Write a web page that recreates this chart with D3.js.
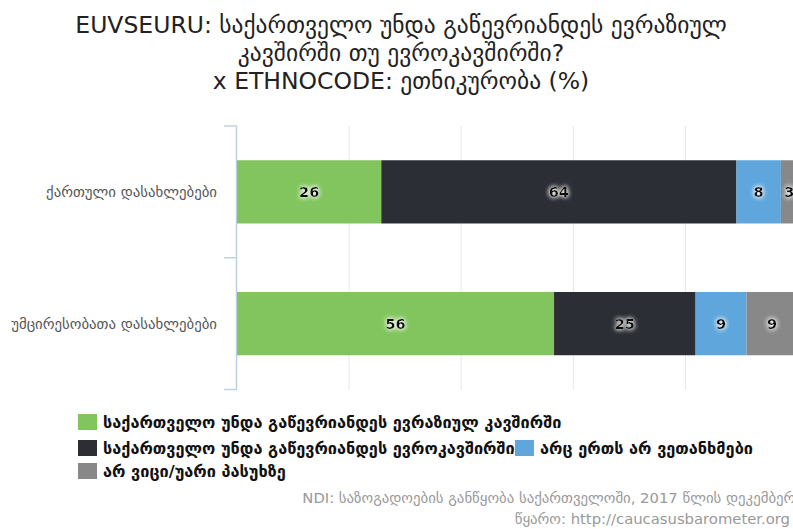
<!DOCTYPE html>
<html lang="ka">
<head>
    <meta charset="UTF-8">
    <title>EUVSEURU x ETHNOCODE</title>
    <script src="https://d3js.org/d3.v7.min.js"></script>
    <style>
        body { margin: 0; background: #fff; overflow: hidden; }
        svg { display: block; font-family: "DejaVu Sans", sans-serif; }
        .title { fill: #222; font-size: 23.5px; text-anchor: middle; }
        .cat-label { fill: #555; font-size: 14.8px; text-anchor: end; }
        .bar-label { fill: #111; font-size: 14.5px; font-weight: bold; text-anchor: middle; }
        .legend-text { fill: #111; font-size: 16.3px; font-weight: bold; }
        .source { fill: #999; font-size: 14.8px; text-anchor: end; }
    </style>
</head>
<body>
<svg id="chart" width="793" height="529"></svg>
<script>
    const titleLines = [
        "EUVSEURU: საქართველო უნდა გაწევრიანდეს ევრაზიულ",
        "კავშირში თუ ევროკავშირში?",
        "x ETHNOCODE: ეთნიკურობა (%)"
    ];
    const categories = ["ქართული დასახლებები", "უმცირესობათა დასახლებები"];
    const seriesNames = [
        "საქართველო უნდა გაწევრიანდეს ევრაზიულ კავშირში",
        "საქართველო უნდა გაწევრიანდეს ევროკავშირში",
        "არც ერთს არ ვეთანხმები",
        "არ ვიცი/უარი პასუხზე"
    ];
    const seriesColors = ["#82c55e", "#2b2e34", "#5ea6db", "#888888"];
    const eurasian = [26, 56];
    const eu = [64, 25];
    const neither = [8, 9];
    const dontKnow = [3, 9];
    const gridTicks = [0, 20, 40, 60, 80, 100];
    const sourceLines = [
        "NDI: საზოგადოების განწყობა საქართველოში, 2017 წლის დეკემბერი",
        "წყარო: http://caucasusbarometer.org"
    ];

    const svg = d3.select("#chart");

    // percent axis; the chart runs a little past the right edge of the window
    const x = d3.scaleLinear().domain([0, 1]).range([237, 797.5]);
    const y = d3.scaleBand().domain(categories).range([126, 389.5])
        .paddingInner(0.52).paddingOuter(0.26);

    // title
    svg.selectAll(".title").data(titleLines).enter().append("text")
        .attr("class", "title")
        .attr("x", 401)
        .attr("y", (d, i) => 33 + i * 28)
        .text(d => d);

    // gridlines
    svg.append("g").selectAll("line").data(gridTicks.slice(1)).enter().append("line")
        .attr("x1", d => x(d / 100)).attr("x2", d => x(d / 100))
        .attr("y1", 126).attr("y2", 389.5)
        .attr("stroke", "#e6e6e6").attr("stroke-width", 1);

    // category axis with ticks at band boundaries
    const axisColor = "#c0d0e3";
    const bounds = [0, 1, 2].map(i => y.range()[0] + i * y.step());
    svg.append("line")
        .attr("x1", x(0) - 0.5).attr("x2", x(0) - 0.5)
        .attr("y1", y.range()[0]).attr("y2", y.range()[1])
        .attr("stroke", axisColor).attr("stroke-width", 1.5);
    svg.append("g").selectAll("line").data(bounds).enter().append("line")
        .attr("x1", x(0) - 13).attr("x2", x(0))
        .attr("y1", d => d).attr("y2", d => d)
        .attr("stroke", axisColor).attr("stroke-width", 1.5);

    svg.append("g").selectAll("text").data(categories).enter().append("text")
        .attr("class", "cat-label")
        .attr("x", 217)
        .attr("y", d => y(d) + y.bandwidth() / 2)
        .attr("dy", "0.35em")
        .text(d => d);

    // stacked bars, normalised to 100% per row
    const table = categories.map((c, i) => ({
        cat: c, s0: eurasian[i], s1: eu[i], s2: neither[i], s3: dontKnow[i]
    }));
    const keys = ["s0", "s1", "s2", "s3"];
    const layers = d3.stack().keys(keys).offset(d3.stackOffsetExpand)(table);

    const defs = svg.append("defs");
    const glow = defs.append("filter").attr("id", "glow")
        .attr("x", "-50%").attr("y", "-50%").attr("width", "200%").attr("height", "200%");
    glow.append("feGaussianBlur").attr("in", "SourceAlpha").attr("stdDeviation", 2.5).attr("result", "b");
    glow.append("feFlood").attr("flood-color", "#fff").attr("flood-opacity", 1);
    glow.append("feComposite").attr("in2", "b").attr("operator", "in").attr("result", "g");
    const merge = glow.append("feMerge");
    merge.append("feMergeNode").attr("in", "g");
    merge.append("feMergeNode").attr("in", "g");
    merge.append("feMergeNode").attr("in", "SourceGraphic");

    const layerG = svg.append("g").selectAll("g").data(layers).enter().append("g")
        .attr("fill", (d, i) => seriesColors[i]);
    layerG.selectAll("rect").data(d => d).enter().append("rect")
        .attr("x", d => x(d[0]))
        .attr("y", d => y(d.data.cat))
        .attr("width", d => x(d[1]) - x(d[0]))
        .attr("height", y.bandwidth());

    const labelG = svg.append("g");
    layers.forEach(layer => {
        labelG.selectAll(null).data(layer).enter().append("text")
            .attr("class", "bar-label")
            .attr("filter", "url(#glow)")
            .attr("x", d => (x(d[0]) + x(d[1])) / 2)
            .attr("y", d => y(d.data.cat) + y.bandwidth() / 2)
            .attr("dy", "0.36em")
            .text(d => d.data[layer.key]);
    });

    // legend
    const legendPos = [[78, 422], [78, 448], [515, 448], [78, 471]];
    const legend = svg.append("g").selectAll("g").data(seriesNames).enter().append("g")
        .attr("transform", (d, i) => `translate(${legendPos[i][0]},${legendPos[i][1]})`);
    legend.append("rect")
        .attr("x", 0).attr("y", -8).attr("width", 19).attr("height", 16)
        .attr("fill", (d, i) => seriesColors[i]);
    legend.append("text")
        .attr("class", "legend-text")
        .attr("x", 25).attr("dy", "0.35em")
        .text(d => d);
    // blue square sits on top of the previous item's text
    legend.filter((d, i) => i === 2).raise();

    // source
    svg.selectAll(".source").data(sourceLines).enter().append("text")
        .attr("class", "source")
        .attr("x", (d, i) => i === 0 ? 803 : 790)
        .attr("y", (d, i) => 503 + i * 21)
        .text(d => d);
</script>
</body>
</html>
